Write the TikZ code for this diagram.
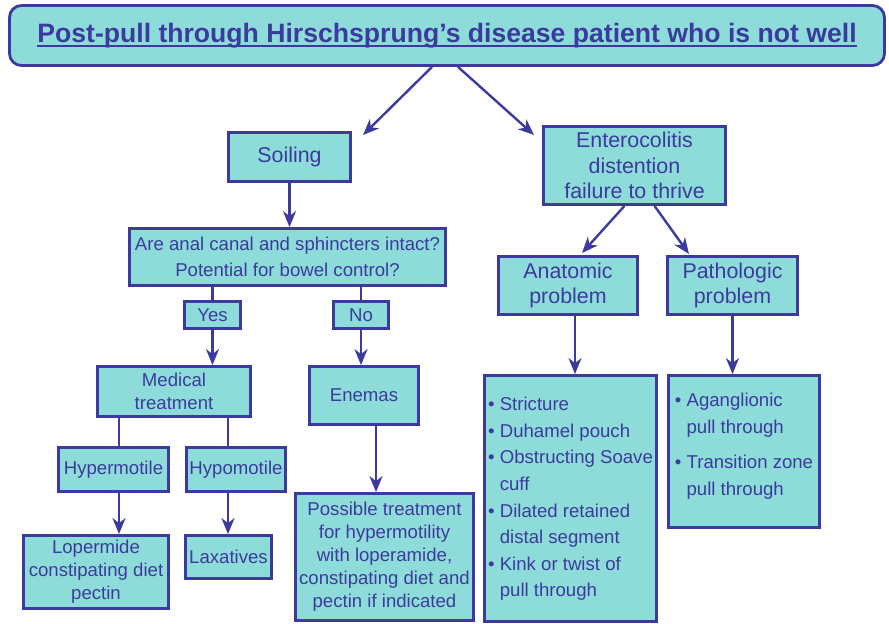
\documentclass[tikz,border=0pt]{standalone}
\usepackage{fontspec}
\setmainfont{Liberation Sans}
\usepackage{tikz}
\usetikzlibrary{arrows.meta}
\definecolor{boxfill}{HTML}{8EDCD9}
\definecolor{ink}{HTML}{3C3A9E}
\newcommand\bodysize{\fontsize{9.3}{11.5}\selectfont}
\newcommand\tallsize{\fontsize{9.3}{12.8}\selectfont}
\newcommand\bigsize{\fontsize{10.7}{12.6}\selectfont}
\newcommand\listsize{\fontsize{9.3}{13.3}\selectfont}
\newcommand\titleul[1]{\setbox0\hbox{#1}\rlap{\rule[-2.2pt]{\wd0}{0.9pt}}\box0}
\tikzset{
  box/.style={draw=ink, fill=boxfill, line width=1.4pt, text=ink, align=center, inner sep=0pt, font=\bodysize},
  tallbox/.style={box, font=\tallsize},
  bigbox/.style={box, font=\bigsize},
  listbox/.style={box, font=\listsize},
  titlebox/.style={box, rounded corners=6pt, font=\fontsize{13.3}{16}\selectfont\bfseries},
  arrow/.style={draw=ink, -{Stealth[length=8pt,width=6.5pt,inset=2.5pt]}, line width=1.2pt},
  link/.style={draw=ink, line width=1.2pt}
}

\begin{document}
\begin{tikzpicture}[x=0.5pt, y=-0.5pt]
\useasboundingbox (0,0) rectangle (889,624);
\node[titlebox, minimum width=437.5pt, minimum height=30pt] (top) at (447,35.5) {\titleul{Post-pull through Hirschsprung’s disease patient who is not well}};
\node[bigbox, minimum width=61pt, minimum height=24.5pt] (soil) at (289.5,157) {Soiling};
\node[bigbox, minimum width=91pt, minimum height=39pt] (entero) at (634.5,165.5) {Enterocolitis\\distention\\failure to thrive};
\node[tallbox, minimum width=158pt, minimum height=28.5pt] (quest) at (287.5,257) {Are anal canal and sphincters intact?\\Potential for bowel control?};
\node[box, minimum width=28pt, minimum height=13.5pt] (yes) at (212.5,315) {Yes};
\node[box, minimum width=27.5pt, minimum height=13.5pt] (no) at (361,315) {No};
\node[bigbox, minimum width=69.5pt, minimum height=29pt] (anat) at (568,285.5) {Anatomic\\problem};
\node[bigbox, minimum width=65pt, minimum height=29pt] (patho) at (732.5,285.5) {Pathologic\\problem};
\node[box, minimum width=76.5pt, minimum height=25pt] (medical) at (174,391.5) {Medical\\treatment};
\node[box, minimum width=54.5pt, minimum height=29pt] (enemas) at (364,395.5) {Enemas};
\node[box, minimum width=55pt, minimum height=22pt] (hyper) at (113.5,469.5) {Hypermotile};
\node[box, minimum width=49.5pt, minimum height=22pt] (hypo) at (236,469.5) {Hypomotile};
\node[box, minimum width=72.5pt, minimum height=36.5pt] (loper) at (96,572) {Lopermide\\constipating diet\\pectin};
\node[box, minimum width=43pt, minimum height=21.5pt] (laxat) at (228.5,557) {Laxatives};
\node[box, minimum width=89pt, minimum height=63.5pt] (possible) at (384.5,557) {Possible treatment\\for hypermotility\\with loperamide,\\constipating diet and\\pectin if indicated};
\node[listbox, minimum width=86pt, minimum height=123pt] (anatlist) at (570.5,498.5) {%
  \begin{tabular}{@{}l@{\hspace{2.6pt}}l@{}}
  \textbullet & Stricture\\
  \textbullet & Duhamel pouch\\
  \textbullet & Obstructing Soave\\
              & cuff\\
  \textbullet & Dilated retained\\
              & distal segment\\
  \textbullet & Kink or twist of\\
              & pull through
  \end{tabular}};
\node[listbox, minimum width=75.5pt, minimum height=76pt] (patholist) at (744,451.5) {%
  \begin{tabular}{@{}l@{\hspace{2.6pt}}l@{}}
  \textbullet & Aganglionic\\
              & pull through\\[4.5pt]
  \textbullet & Transition zone\\
              & pull through\\[6pt]
  \end{tabular}};
\coordinate (soilin) at (363,135);
\coordinate (enteroin) at (534,135);
\coordinate (anatin) at (582,253);
\coordinate (pathoin) at (689,254);
\coordinate (laneA) at (119,0);
\coordinate (laneB) at (228,0);
\coordinate (laneC) at (376,0);
\coordinate (laneD) at (575,0);
\draw[arrow] ([xshift=-7.5pt]top.south) -- (soilin);
\draw[arrow] ([xshift=5.5pt]top.south) -- (enteroin);
\draw[arrow] (soil) -- (quest.north -| soil);
\draw[link] (quest.south -| yes) -- (yes);
\draw[link] (quest.south -| no) -- (no);
\draw[arrow] (yes) -- (medical.north -| yes);
\draw[arrow] (no) -- (enemas.north -| no);
\draw[link] (medical.south -| laneA) -- (hyper.north -| laneA);
\draw[link] (medical.south -| laneB) -- (hypo.north -| laneB);
\draw[arrow] (hyper.south -| laneA) -- (loper.north -| laneA);
\draw[arrow] (hypo.south -| laneB) -- (laxat.north -| laneB);
\draw[arrow] (enemas.south -| laneC) -- (possible.north -| laneC);
\draw[arrow] ([xshift=-5pt]entero.south) -- (anatin);
\draw[arrow] ([xshift=10pt]entero.south) -- (pathoin);
\draw[arrow] (anat.south -| laneD) -- (anatlist.north -| laneD);
\draw[arrow] (patho) -- (patholist.north -| patho);
\end{tikzpicture}
\end{document}
